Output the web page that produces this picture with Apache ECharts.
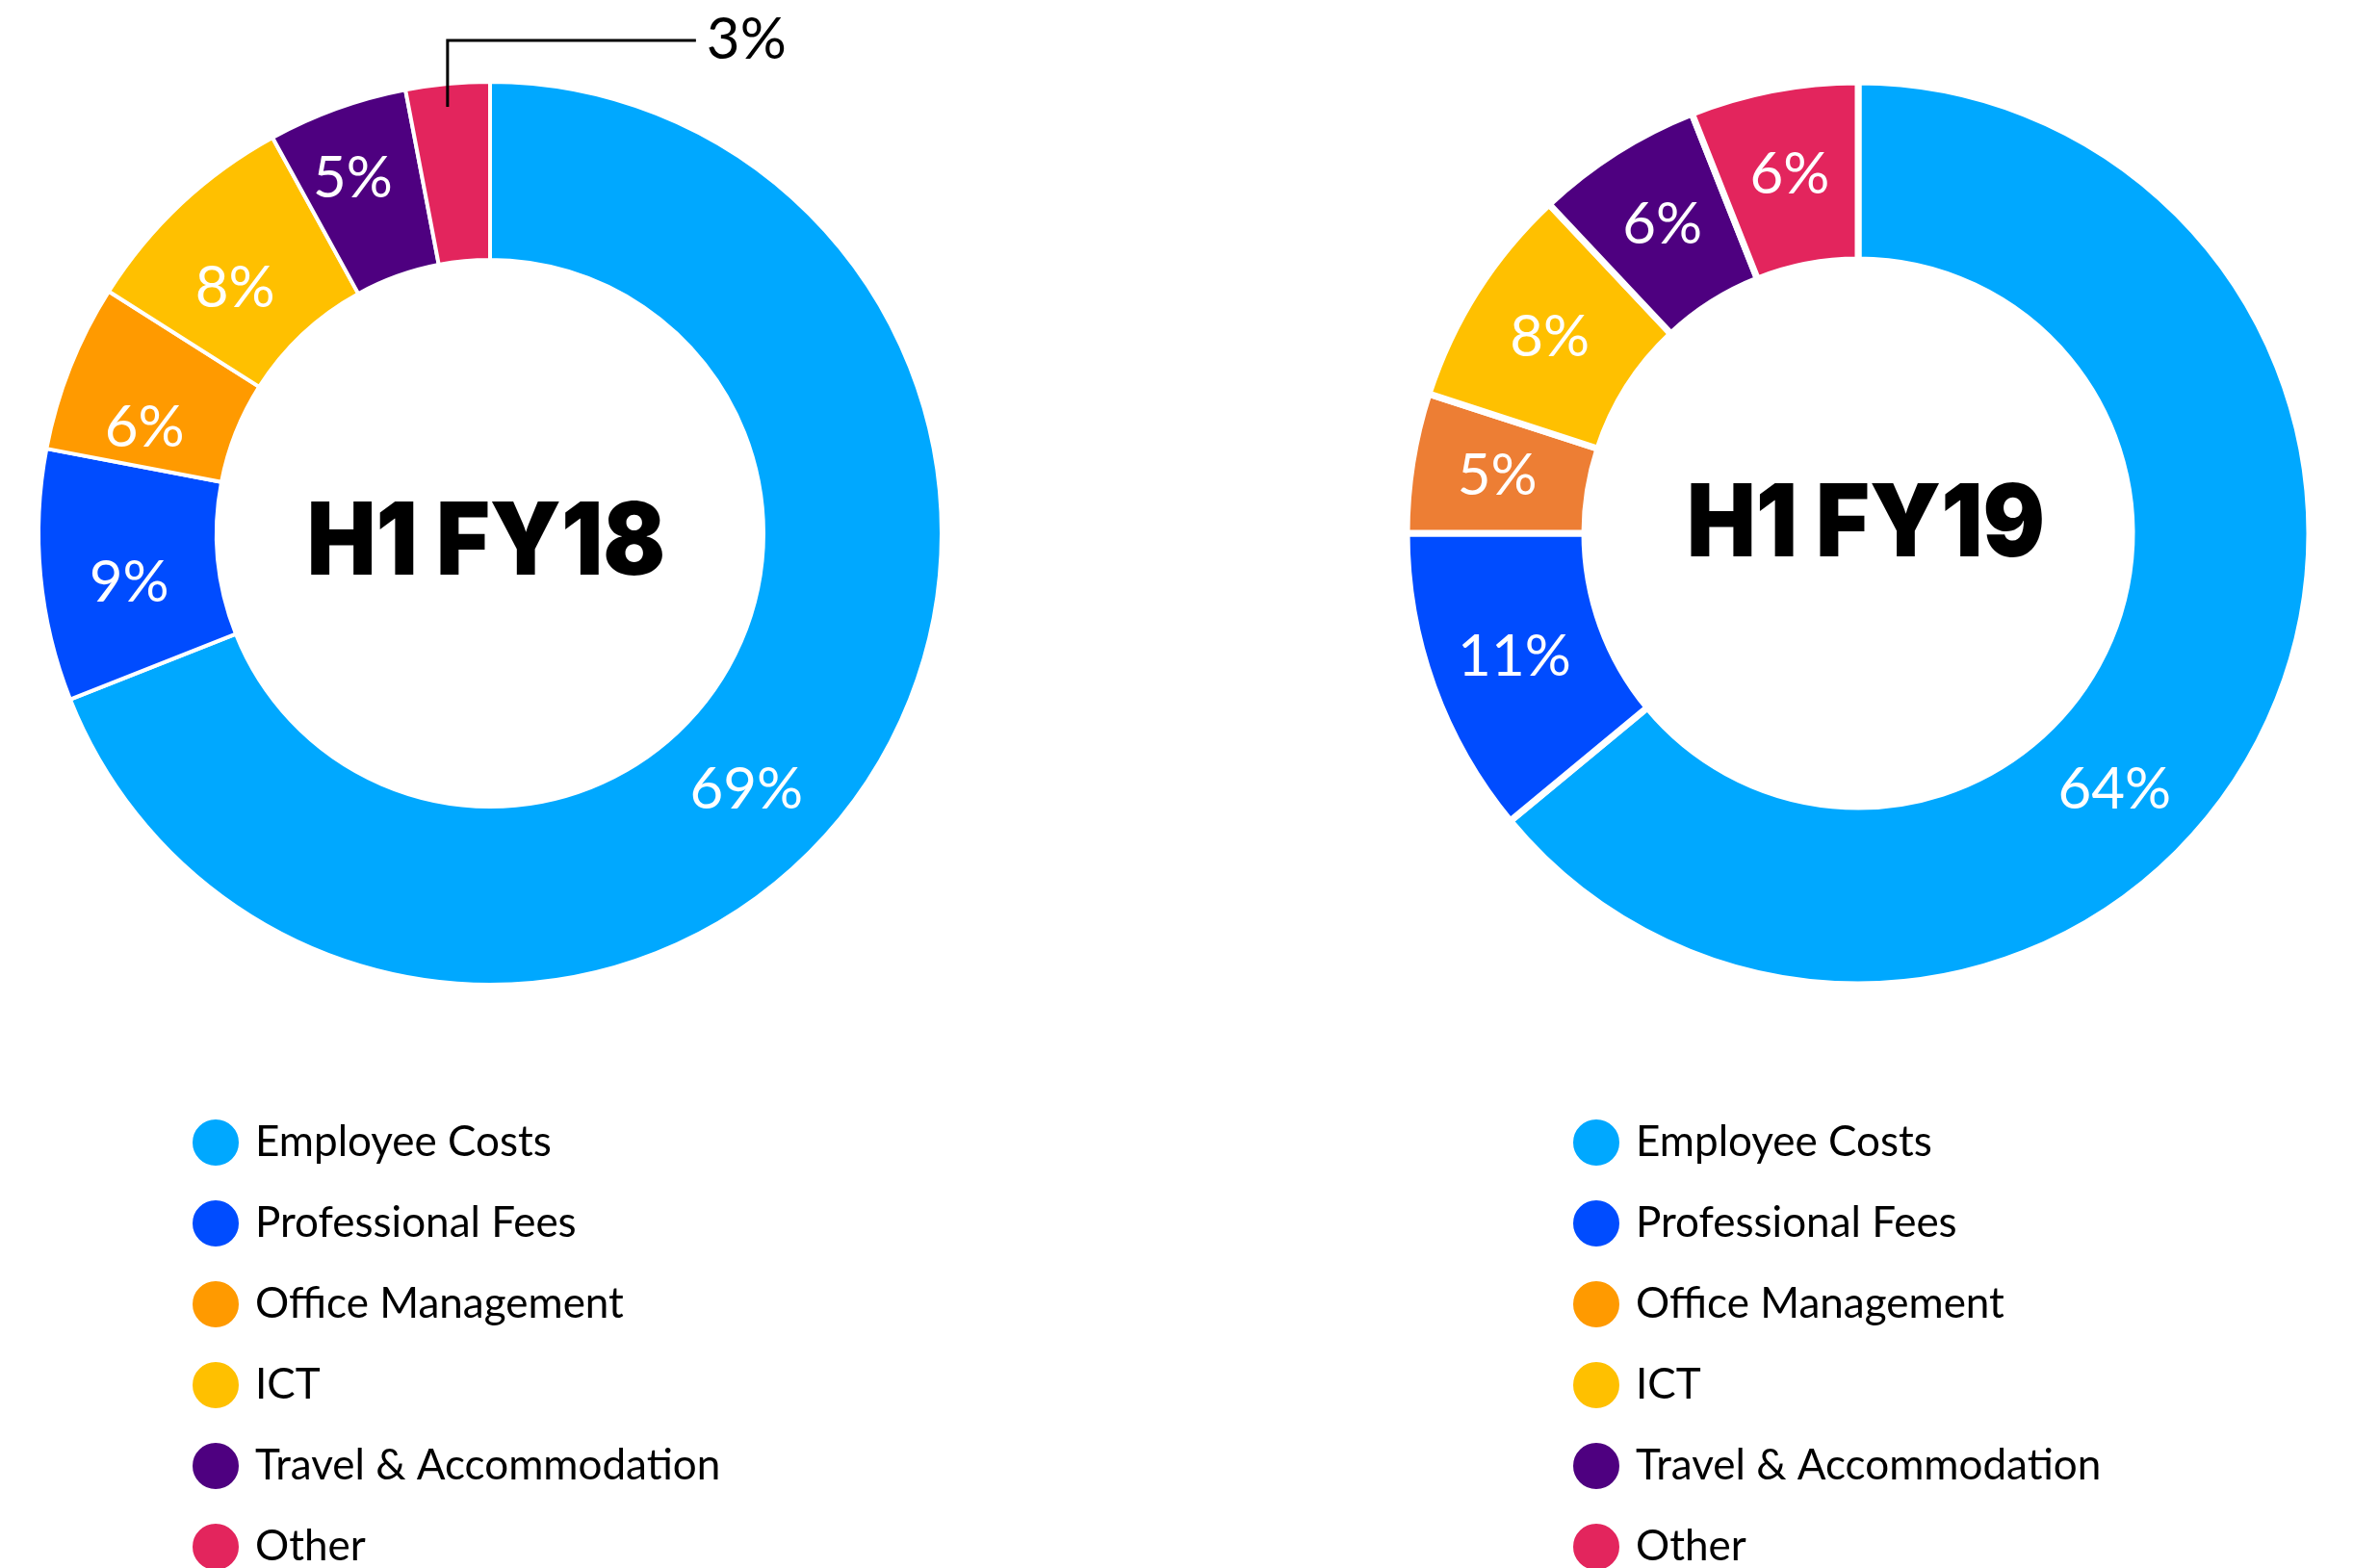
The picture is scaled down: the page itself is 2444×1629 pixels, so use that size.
<!DOCTYPE html>
<html>
<head>
<meta charset="utf-8">
<title>Expenses H1 FY18 / H1 FY19</title>
<script src="https://cdn.jsdelivr.net/npm/echarts@6/dist/echarts.min.js"></script>
<style>
  html, body { margin: 0; padding: 0; background: #fff; }
  #chart { width: 2444px; height: 1629px; }
</style>
</head>
<body>
<div id="chart"></div>
<script>
const categories = ['Employee Costs', 'Professional Fees', 'Office Management', 'ICT', 'Travel & Accommodation', 'Other'];
const fy18Values = [69, 9, 6, 8, 5, 3];
const fy19Values = [64, 11, 5, 8, 6, 6];
const periodLabels = ['H1 FY18', 'H1 FY19'];

const colors = ['#00A8FF', '#004CFF', '#FF9A00', '#FFC000', '#4E0080', '#E3255D'];
const fy19OfficeColor = '#ED7E34';

// layout
const centers = [[509, 554], [1930, 554]];
const radii = [284, 469];
const labelFont = 'Lato, "Open Sans", sans-serif';
// hand nudges for the small FY18 labels (px)
const fy18LabelNudge = { 1: [3, 16], 2: [-6, 30], 3: [-5, 22], 4: [-14, -11] };

function bigLabelLayout(center) {
  return function (p) {
    if (p.dataIndex !== 0) return;
    const rm = (radii[0] + radii[1]) / 2;
    const ang = 135 * Math.PI / 180;
    return {
      x: center[0] + rm * Math.sin(ang),
      y: center[1] - rm * Math.cos(ang),
      align: 'center',
      verticalAlign: 'middle'
    };
  };
}

function makeData(values, overrides) {
  return categories.map((name, i) => {
    const item = { name: name, value: values[i] };
    if (overrides && overrides[i]) Object.assign(item, overrides[i]);
    return item;
  });
}

const labelBase = {
  show: true,
  position: 'inside',
  formatter: '{c}%',
  color: '#fff',
  fontSize: 60,
  fontFamily: labelFont,
  fontWeight: 'normal'
};

const chart = echarts.init(document.getElementById('chart'));

const legendBase = {
  orient: 'vertical',
  data: categories,
  icon: 'circle',
  itemWidth: 50,
  itemHeight: 50,
  itemGap: 32,
  padding: 0,
  height: 700,
  selectedMode: false,
  textStyle: { fontSize: 44, lineHeight: 50, color: '#000', fontFamily: labelFont, padding: [0, 0, 0, 11] }
};

const fy18Overrides = { 5: { label: { show: false } } };
Object.keys(fy18LabelNudge).forEach(k => { fy18Overrides[k] = { label: { offset: fy18LabelNudge[k] } }; });

const option = {
  backgroundColor: '#fff',
  color: colors,
  animation: false,
  legend: [
    Object.assign({}, legendBase, { left: 198, top: 1161 }),
    Object.assign({}, legendBase, { left: 1632, top: 1161 })
  ],
  graphic: periodLabels.map((t, i) => ({
    type: 'text',
    x: i === 0 ? 505 : 1938,
    y: i === 0 ? 566 : 547,
    scaleX: 0.92,
    style: {
      text: t,
      fill: '#000',
      fontSize: 104,
      fontWeight: 900,
      fontFamily: 'Inter, Roboto, sans-serif',
      align: 'center',
      verticalAlign: 'middle'
    }
  })),
  series: [
    {
      type: 'pie',
      center: centers[0],
      radius: radii,
      startAngle: 90,
      clockwise: true,
      avoidLabelOverlap: false,
      itemStyle: { borderColor: '#fff', borderWidth: 4 },
      label: labelBase,
      labelLine: { show: false },
      emphasis: { disabled: true },
      labelLayout: bigLabelLayout(centers[0]),
      data: makeData(fy18Values, fy18Overrides)
    },
    {
      type: 'pie',
      center: centers[1],
      radius: radii,
      startAngle: 90,
      clockwise: true,
      avoidLabelOverlap: false,
      itemStyle: { borderColor: '#fff', borderWidth: 7 },
      label: labelBase,
      labelLine: { show: false },
      emphasis: { disabled: true },
      labelLayout: bigLabelLayout(centers[1]),
      data: makeData(fy19Values, { 2: { itemStyle: { color: fy19OfficeColor } } })
    },
    {
      // transparent copy of FY18 on top, only carries the "3%" callout
      type: 'pie',
      z: 5,
      silent: true,
      legendHoverLink: false,
      center: centers[0],
      radius: radii,
      startAngle: 90,
      clockwise: true,
      avoidLabelOverlap: false,
      itemStyle: { color: 'rgba(0,0,0,0)', borderWidth: 0 },
      label: { show: false },
      labelLine: { show: false },
      emphasis: { disabled: true },
      labelLayout: function (p) {
        if (p.dataIndex !== 5 || !p.labelLinePoints) return;
        const a = p.labelLinePoints[0];
        const top = a[1] - 45;
        const end = a[0] + 258;
        return {
          x: end + 11,
          y: top,
          align: 'left',
          verticalAlign: 'middle',
          labelLinePoints: [[a[0], a[1] + 24], [a[0], top], [end, top]]
        };
      },
      data: makeData(fy18Values, {
        5: {
          label: { show: true, position: 'outside', formatter: '{c}%', color: '#000', fontSize: 60, fontFamily: labelFont },
          labelLine: { show: true, length: 20, length2: 20, lineStyle: { color: '#000', width: 3 } }
        }
      })
    }
  ]
};

chart.setOption(option);
</script>
</body>
</html>
